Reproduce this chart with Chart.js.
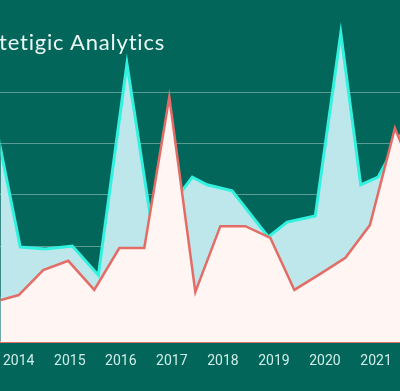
<!DOCTYPE html>
<html>
<head>
<meta charset="utf-8">
<script src="https://cdn.jsdelivr.net/npm/chart.js@4"></script>
<style>
    html, body { margin: 0; padding: 0; background: #03665b; }
    #wrap { position: relative; width: 400px; height: 391px; overflow: hidden; }
    #title {
        position: absolute; left: -1px; top: 29px;
        font: 22px "Lato", sans-serif; line-height: 26px;
        letter-spacing: 0.8px;
        color: #eaf7f4; white-space: nowrap;
    }
</style>
</head>
<body>
<div id="wrap">
    <canvas id="chart" width="400" height="391"></canvas>
    <div id="title">tetigic Analytics</div>
</div>
<script>
// year labels on the x axis
const years = [2014, 2015, 2016, 2017, 2018, 2019, 2020, 2021];
const gridValues = [100, 200, 300, 400, 500];

// light red series (front)
const redDates = [2013.5, 2014.0, 2014.48, 2014.97, 2015.48, 2015.97, 2016.46, 2016.95, 2017.46,
    2017.95, 2018.44, 2018.93, 2019.4, 2019.9, 2020.4, 2020.88, 2021.37, 2021.86];
const redValues = [90, 104, 153, 171, 114, 196, 196, 492, 110,
    239, 239, 216, 114, 145, 177, 241, 431, 310];

// cyan series (back)
const cyanDates = [2013.55, 2014.03, 2014.52, 2015.05, 2015.56, 2016.12, 2016.62, 2017.4, 2017.69,
    2018.18, 2018.89, 2019.26, 2019.81, 2020.31, 2020.7, 2021.04, 2021.5];
const cyanValues = [437, 198, 194, 200, 143, 557, 231, 335, 320,
    308, 218, 247, 259, 617, 320, 335, 420];

const toPoints = (xs, ys) => xs.map((x, i) => ({ x, y: ys[i] }));

new Chart(document.getElementById("chart"), {
    type: "line",
    data: {
        datasets: [
            {
                label: "Red",
                data: toPoints(redDates, redValues),
                borderColor: "#e36d66",
                backgroundColor: "#fff5f3",
                borderWidth: 2.5,
                fill: "start",
                pointRadius: 0,
                tension: 0,
            },
            {
                label: "Cyan",
                data: toPoints(cyanDates, cyanValues),
                borderColor: "#31f2de",
                backgroundColor: "#bee7ec",
                borderWidth: 3,
                fill: "start",
                pointRadius: 0,
                tension: 0,
            },
        ],
    },
    options: {
        responsive: false,
        animation: false,
        layout: { padding: 0 },
        plugins: {
            legend: { display: false },
            tooltip: { enabled: false },
        },
        scales: {
            x: {
                type: "linear",
                min: 2013.642,
                max: 2021.47,
                z: 1,
                grid: { display: false },
                border: { display: true, color: "#e0716b", width: 2 },
                afterBuildTicks: (s) => { s.ticks = years.map((v) => ({ value: v })); },
                afterFit: (s) => { s.height = 49; },
                ticks: {
                    autoSkip: false,
                    maxRotation: 0,
                    color: "#cfeee9",
                    font: { family: "Roboto", size: 14 },
                    padding: 3,
                    callback: (v) => String(v),
                },
            },
            y: {
                min: 12,
                max: 682,
                z: 1,
                border: { display: false },
                grid: { color: "rgba(255,255,255,0.35)", lineWidth: 1, drawTicks: false },
                afterBuildTicks: (s) => { s.ticks = gridValues.map((v) => ({ value: v })); },
                afterFit: (s) => { s.width = 0; },
                ticks: { display: false },
            },
        },
    },
});
</script>
</body>
</html>
